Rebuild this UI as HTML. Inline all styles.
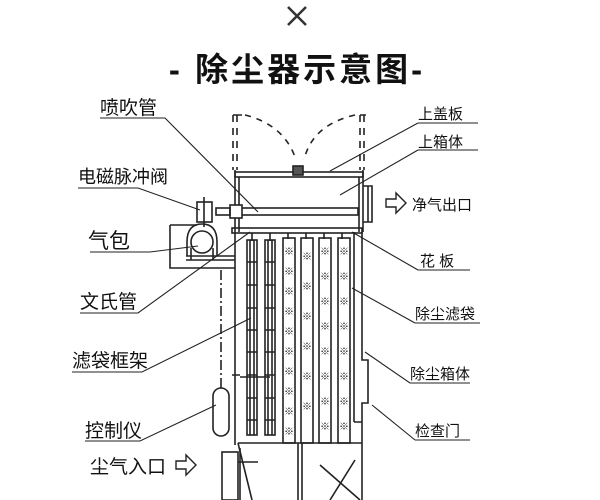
<!DOCTYPE html>
<html><head><meta charset="utf-8"><style>
html,body{margin:0;padding:0;background:#fff;width:600px;height:500px;overflow:hidden}
svg{display:block}
text{font-family:"Liberation Sans","Noto Sans CJK SC",sans-serif;fill:#111}
</style></head><body>
<svg width="600" height="500" viewBox="0 0 600 500" stroke="#222" fill="none" stroke-width="1.6">
<path d="M288 7 L306 25 M306 7 L288 25" stroke="#333" stroke-width="2.5"/>
<text x="297" y="81" text-anchor="middle" font-size="33" font-weight="bold" stroke="none" fill="#333" letter-spacing="3">- 除尘器示意图-</text>

<path d="M233 115 V170 M237 115 V170 M360 115 V170 M364 115 V170" stroke-dasharray="7,6"/>
<path d="M245 115 Q285 125 296 160 M355 115 Q312 125 304 160" stroke-dasharray="6,6"/>
<path d="M233 115 H242 M360 115 H366"/>
<rect x="235" y="172" width="128" height="5"/>
<rect x="293" y="166" width="10" height="9" fill="#555"/>
<path d="M235 170 V445 M363 170 V232"/>
<path d="M239 177 V232 M359 177 V232"/>
<path d="M363 186 H372 V222 H363 M368 186 V222"/>
<rect x="240" y="208" width="118" height="7"/>
<rect x="230" y="205" width="12" height="13" fill="#fff"/>
<rect x="216" y="208" width="14" height="7"/>
<rect x="197" y="202" width="15" height="20" fill="#fff"/>
<path d="M204 197 V227"/>
<circle cx="202" cy="242" r="11"/>
<path d="M187 256 V242 Q187 224 202 224 Q217 224 217 242 V256"/>
<path d="M186 256 H235 M186 260 H235"/>
<path d="M191 248 V260 M213 248 V260"/>
<path d="M170 225 H197 M170 225 V268 H235"/>
<rect x="232" y="228" width="130" height="5"/>
<path d="M252 233 v8 M270 233 v8 M288 233 v6 M306 233 v6 M324 233 v6 M342 233 v6"/>
<g>
<rect x="247" y="240" width="10" height="195"/>
<rect x="265" y="240" width="10" height="195"/>
<path d="M250 240 V435 M254 240 V435 M268 240 V435 M272 240 V435"/>
<path d="M247 262H257 M247 285H257 M247 308H257 M247 330H257 M247 352H257 M247 375H257 M247 398H257 M247 420H257"/>
<path d="M265 262H275 M265 285H275 M265 308H275 M265 330H275 M265 352H275 M265 375H275 M265 398H275 M265 420H275"/>
</g>
<rect x="283" y="238" width="12" height="205"/>
<rect x="301" y="238" width="12" height="205"/>
<rect x="319" y="238" width="12" height="205"/>
<rect x="338" y="238" width="12" height="205"/>
<g font-size="10" stroke="none">
<text x="284" y="255">※</text><text x="284" y="275">※</text><text x="284" y="295">※</text><text x="284" y="315">※</text><text x="284" y="335">※</text><text x="284" y="355">※</text><text x="284" y="375">※</text><text x="284" y="395">※</text><text x="284" y="415">※</text><text x="284" y="435">※</text>
<text x="302" y="260">※</text><text x="302" y="290">※</text><text x="302" y="320">※</text><text x="302" y="350">※</text><text x="302" y="380">※</text><text x="302" y="410">※</text>
<text x="320" y="255">※</text><text x="320" y="280">※</text><text x="320" y="305">※</text><text x="320" y="330">※</text><text x="320" y="355">※</text><text x="320" y="380">※</text><text x="320" y="405">※</text><text x="320" y="430">※</text>
<text x="339" y="255">※</text><text x="339" y="280">※</text><text x="339" y="305">※</text><text x="339" y="330">※</text><text x="339" y="355">※</text><text x="339" y="380">※</text><text x="339" y="405">※</text><text x="339" y="430">※</text>
</g>
<path d="M354 232 V422 M362 232 V360 H368 V403 H362 V422 H354 M362 422 V500"/>
<path d="M238 443 H362"/>
<path d="M232 375 H240 M240 377 H270"/>
<rect x="213" y="388" width="16" height="48" rx="8"/>
<path d="M221 270 V388" stroke-dasharray="10,3,2,3"/>
<path d="M298 443 V500 M302 443 V500 M320 465 L360 500 M355 460 L330 500"/>
<path d="M238 443 L252 500"/>
<rect x="222" y="452" width="16" height="48"/>
<path d="M238 462 H258 M240 448 V500"/>

<g stroke-width="1.1">
<path d="M100 118 H165 L258 212"/>
<path d="M78 188 H138 L200 210"/>
<path d="M90 252 H150 L198 246"/>
<path d="M80 313 H138 L250 232"/>
<path d="M72 372 H142 L251 318"/>
<path d="M85 441 H140 L216 405"/>
<path d="M418 123 H478 M418 123 L330 171"/>
<path d="M418 150 H478 M418 150 L340 195"/>
<path d="M418 270 H470 M418 270 L352 232"/>
<path d="M415 323 H480 M415 323 L352 288"/>
<path d="M410 383 H470 M410 383 L365 352"/>
<path d="M415 440 H470 M415 440 L372 405"/>
</g>
<path d="M386 199 H396 V193 L406 203 L396 213 V207 H386 Z" stroke-width="1.4"/>
<path d="M176 461 H186 V455 L196 465 L186 475 V469 H176 Z" stroke-width="1.4"/>

<g font-size="19" stroke="none">
<text x="100" y="114">喷吹管</text>
<text x="78" y="183" font-size="18">电磁脉冲阀</text>
<text x="88" y="248" font-size="21">气包</text>
<text x="80" y="308">文氏管</text>
<text x="72" y="367">滤袋框架</text>
<text x="85" y="437">控制仪</text>
<text x="90" y="473">尘气入口</text>
</g>
<g font-size="15" stroke="none">
<text x="418" y="119">上盖板</text>
<text x="418" y="147">上箱体</text>
<text x="412" y="210">净气出口</text>
<text x="420" y="266">花 板</text>
<text x="415" y="319">除尘滤袋</text>
<text x="410" y="379">除尘箱体</text>
<text x="415" y="436">检查门</text>
</g>
</svg>
</body></html>
